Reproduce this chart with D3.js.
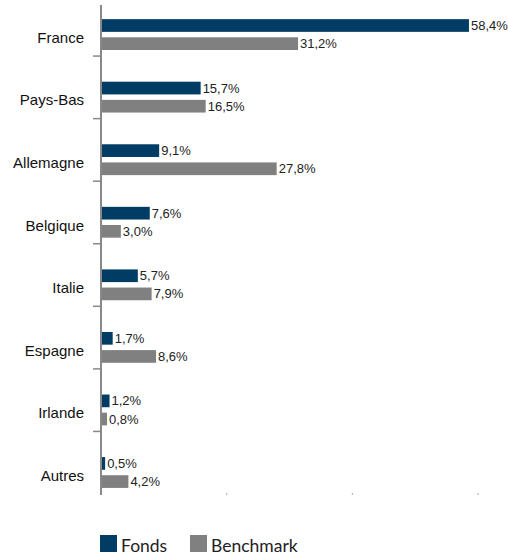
<!DOCTYPE html>
<html><head><meta charset="utf-8">
<script src="https://cdn.jsdelivr.net/npm/d3@7"></script>
<style>body{margin:0;background:#fff}svg{display:block}.arial{font-family:"Liberation Sans",Arial,Helvetica,sans-serif}</style>
</head><body>
<svg id="chart" width="508" height="557"></svg>
<script>
const categories = ["France","Pays-Bas","Allemagne","Belgique","Italie","Espagne","Irlande","Autres"];
const fonds = [58.4,15.7,9.1,7.6,5.7,1.7,1.2,0.5];
const benchmark = [31.2,16.5,27.8,3.0,7.9,8.6,0.8,4.2];
const xTicks = [0,20,40,60];
const seriesNames = ["Fonds","Benchmark"];
const colors = ["#003c64","#808080"];

const svg = d3.select("#chart");
const x = d3.scaleLinear().domain([0,60]).range([101,478]);
const y = d3.scaleBand().domain(categories).range([-6.5,494]);
const fmt = v => d3.format(".1f")(v).replace(".", ",") + "%";

const bw = y.bandwidth();
const offs = [bw*0.41, bw*0.70];
const bh = 12.7;

// bars
[fonds, benchmark].forEach((vals, si) => {
  const g = svg.append("g");
  g.selectAll("rect").data(categories).join("rect")
    .attr("x", x(0)+1)
    .attr("y", d => y(d) + offs[si])
    .attr("width", (d,i) => Math.max(0, x(vals[i]) - x(0)))
    .attr("height", bh)
    .attr("fill", colors[si]);
  g.selectAll("text").data(categories).join("text")
    .attr("class","arial")
    .attr("x", (d,i) => x(vals[i]) + 3)
    .attr("y", d => y(d) + offs[si] + bh/2)
    .attr("dy", "0.35em")
    .attr("font-size", 13)
    .attr("fill", "#222")
    .text((d,i) => fmt(vals[i]));
});

// y axis
svg.append("line").attr("x1",101).attr("x2",101).attr("y1",5).attr("y2",495)
  .attr("stroke","#888").attr("stroke-width",2);
svg.selectAll(".tk").data(categories.slice(1)).join("line")
  .attr("x1",93).attr("x2",101)
  .attr("y1", d => y(d)).attr("y2", d => y(d))
  .attr("stroke","#888").attr("stroke-width",1.5);
svg.selectAll(".cat").data(categories).join("text")
  .attr("class","arial")
  .attr("x",84)
  .attr("y", d => y(d) + (offs[0]+offs[1]+bh)/2 + 3)
  .attr("dy","0.35em")
  .attr("text-anchor","end")
  .attr("font-size",15)
  .attr("fill","#111")
  .text(d => d);

// x axis dots
svg.selectAll(".xd").data(xTicks.slice(1)).join("rect")
  .attr("x", d => x(d)-0.5).attr("y",493).attr("width",1).attr("height",2)
  .attr("fill","#aaa");

// legend
const lx = [100,190];
seriesNames.forEach((n,i) => {
  svg.append("rect").attr("x",lx[i]).attr("y",535).attr("width",17).attr("height",17).attr("fill",colors[i]);
  svg.append("text").attr("x",lx[i]+21).attr("y",552)
    .style("font-family","Lato, 'Open Sans', sans-serif").attr("font-size",17.5)
    .attr("fill","#222").text(n);
});
</script>
</body></html>
